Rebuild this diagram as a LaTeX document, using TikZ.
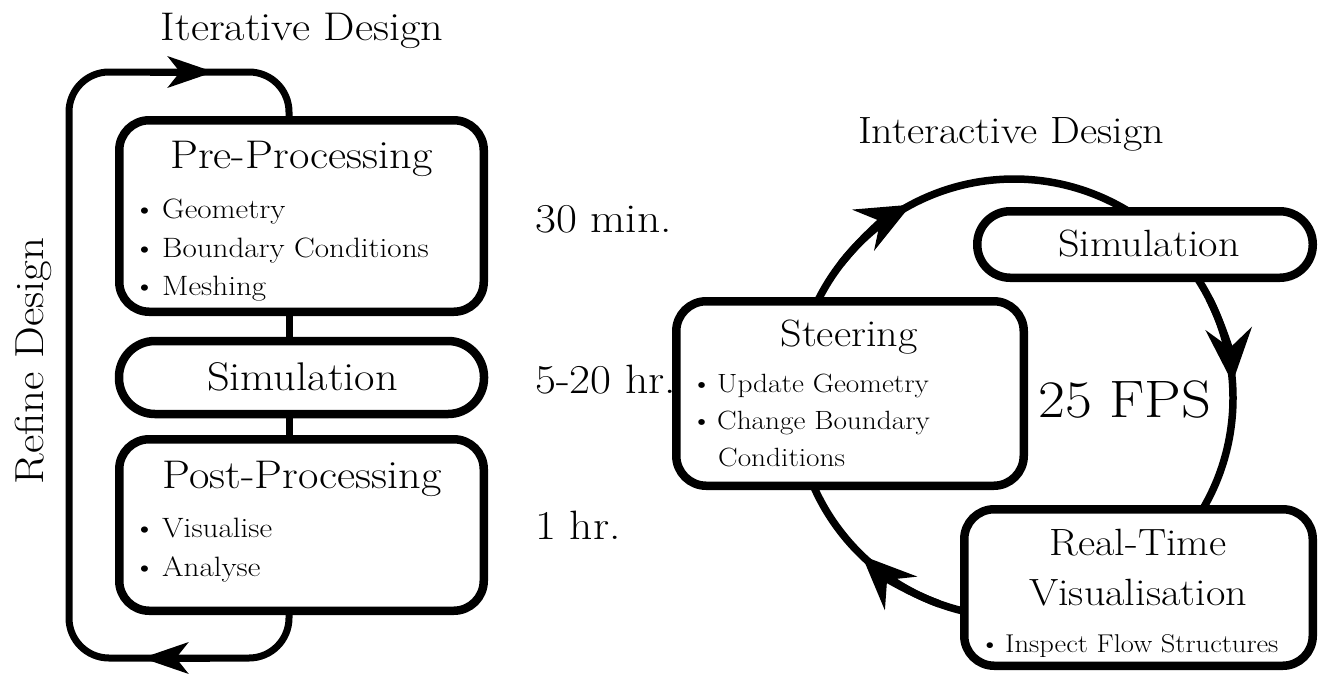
\documentclass[tikz,border=0pt]{standalone}
\usepackage{fontspec}
\setmainfont{Latin Modern Roman}[FakeStretch=1.11]
\usetikzlibrary{arrows.meta,calc}
\newcommand{\bulL}{\llap{\textbullet\hspace{6.5pt}}}
\newcommand{\bulR}{\llap{\textbullet\hspace{5pt}}}
\tikzset{
  box/.style={draw, fill=white, line width=8.5pt, rounded corners=30pt, inner sep=0pt},
  pill/.style={draw, fill=white, line width=8.5pt, inner sep=0pt},
  conn/.style={draw, line width=7pt},
  loopline/.style={draw, line width=7pt, rounded corners=40pt},
  arcline/.style={draw, line width=7.5pt},
  looptip/.style={-{Stealth[length=46pt,width=31pt,inset=12pt]}},
  arctip/.style={-{Stealth[length=54pt,width=46pt,inset=19pt]}},
  ttlL/.style={inner sep=0pt, anchor=base, font=\fontsize{40}{48}\selectfont},
  ttlR/.style={inner sep=0pt, anchor=base, font=\fontsize{38}{46}\selectfont},
  itemL/.style={inner sep=0pt, anchor=base west, font=\fontsize{28}{34}\selectfont},
  itemR/.style={inner sep=0pt, anchor=base west, font=\fontsize{26.4}{32}\selectfont},
  timetxt/.style={inner sep=0pt, anchor=base west, font=\fontsize{41}{49}\selectfont},
}
\begin{document}
\begin{tikzpicture}[x=1pt,y=-1pt]
\useasboundingbox (0,0) rectangle (1321,673);

% ---------------- left: iterative design ----------------
\node[box, minimum width=364.5pt, minimum height=191.5pt] (pre) at (301.5,216) {};
\node[pill, rounded corners=36pt, minimum width=365pt, minimum height=73pt] (simL) at (301.5,377.5) {};
\node[box, minimum width=364.5pt, minimum height=171.5pt] (post) at (301.5,525) {};

\draw[conn] ([xshift=-12.5pt]pre.south) -- ([xshift=-12.5pt]simL.north);
\draw[conn] ([xshift=-12.5pt]simL.south) -- ([xshift=-12.5pt]post.north);

\coordinate (lbr) at (289,658);
\coordinate (lbl) at (69,658);
\coordinate (ltl) at (69,72);
\coordinate (ltr) at (289,72);
\draw[loopline] ([xshift=-12.5pt]post.south) -- (lbr) -- (lbl) -- (ltl) -- (ltr) -- ([xshift=-12.5pt]pre.north);
\coordinate (topA0) at (150,72);
\coordinate (topA) at (214,72);
\coordinate (botA0) at (210,658);
\coordinate (botA) at (142,658);
\draw[loopline, looptip] (topA0) -- (topA);
\draw[loopline, looptip] (botA0) -- (botA);

\node[ttlL] (iter) at (302,40) {Iterative Design};
\node[ttlL] (preT) at (301.5,168) {Pre-Processing};
\node[itemL] (pre1) at (162,218) {\bulL Geometry};
\node[itemL] (pre2) at (162,257) {\bulL Boundary Conditions};
\node[itemL] (pre3) at (162,295) {\bulL Meshing};
\node[ttlL] (simLT) at (302.5,390) {Simulation};
\node[ttlL] (postT) at (302,488) {Post-Processing};
\node[itemL] (post1) at (162,537) {\bulL Visualise};
\node[itemL] (post2) at (162,576) {\bulL Analyse};
\node[ttlL, rotate=90, font=\fontsize{40.5}{48}\selectfont] (refine) at (43,361) {Refine Design};

\node[timetxt] (t1) at (535,232) {30 min.};
\node[timetxt] (t2) at (535,393) {5-20 hr.};
\node[timetxt] (t3) at (535,539) {1 hr.};

% ---------------- right: interactive design ----------------
\coordinate (c) at (1014,398);
\draw[arcline] ($(c)+(160:219pt)$) arc[start angle=160, end angle=55, radius=219pt];
\draw[arcline] ($(c)+(35:219pt)$) arc[start angle=35, end angle=-35, radius=219pt];
\draw[arcline] ($(c)+(260:219pt)$) arc[start angle=260, end angle=195, radius=219pt];

\node[box, minimum width=347.5pt, minimum height=184.5pt] (steer) at (850,393.5) {};
\node[pill, rounded corners=33pt, minimum width=335.5pt, minimum height=66.5pt] (simR) at (1145,244.5) {};
\node[box, minimum width=348.5pt, minimum height=156.5pt] (rtv) at (1138.5,587.5) {};

\draw[arcline, arctip] ($(c)+(142:219pt)$) arc[start angle=142, end angle=118, radius=219pt];
\draw[arcline, arctip] ($(c)+(27:219pt)$) arc[start angle=27, end angle=4, radius=219pt];
\draw[arcline, arctip] ($(c)+(250:219pt)$) arc[start angle=250, end angle=226, radius=219pt];

\node[ttlR] (inter) at (1011,143) {Interactive Design};
\node[ttlR] (simRT) at (1149,256) {Simulation};
\node[ttlR] (steerT) at (849,346) {Steering};
\node[itemR] (st1) at (717,392) {\bulR Update Geometry};
\node[itemR] (st2) at (717,429) {\bulR Change Boundary};
\node[itemR] (st3) at (718,466) {Conditions};
\node[inner sep=0pt, anchor=base west, font=\fontsize{52.7}{60}\selectfont] (fps) at (1038,417) {25 FPS};
\node[ttlR] (rtT1) at (1138,555) {Real-Time};
\node[ttlR] (rtT2) at (1138,605) {Visualisation};
\node[itemR, font=\fontsize{25.7}{31}\selectfont] (rt1) at (1005,652) {\bulR Inspect Flow Structures};
\end{tikzpicture}
\end{document}
